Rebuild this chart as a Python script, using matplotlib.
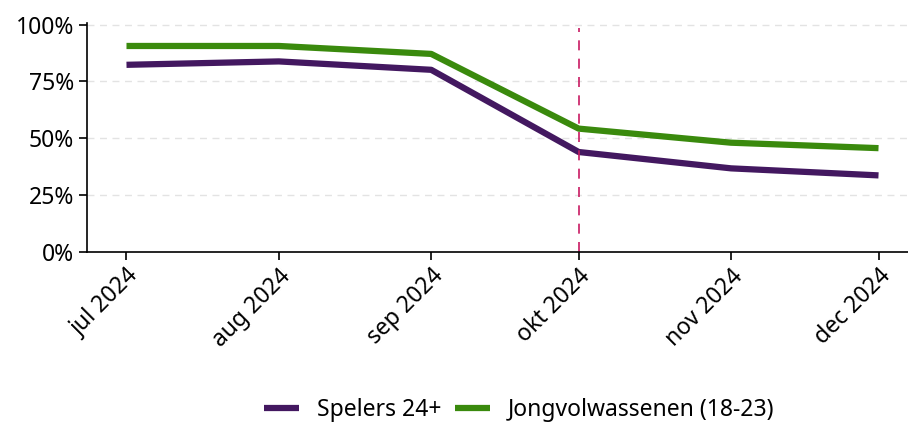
import datetime as dt
import matplotlib
matplotlib.use("Agg")
import matplotlib.pyplot as plt
from matplotlib.ticker import FuncFormatter

months = [dt.date(2024, 7, 1), dt.date(2024, 8, 1), dt.date(2024, 9, 1),
          dt.date(2024, 10, 1), dt.date(2024, 11, 1), dt.date(2024, 12, 1)]
month_labels = ["jul 2024", "aug 2024", "sep 2024", "okt 2024", "nov 2024", "dec 2024"]
spelers = [82.3, 83.8, 80.1, 43.9, 36.7, 33.6]
jong = [90.6, 90.6, 87.1, 54.2, 48.0, 45.6]
marker_date = dt.date(2024, 10, 1)

plt.rcParams['font.family'] = ['Noto Sans', 'DejaVu Sans']

fig = plt.figure(figsize=(9.08, 4.23), dpi=100)
ax = fig.add_axes([0.096, 0.405, 0.904, 0.54])

ax.plot(months, spelers, color="#431860", lw=4.5, label="Spelers 24+", solid_capstyle="butt")
ax.plot(months, jong, color="#3a8a0d", lw=4.5, label="Jongvolwassenen (18-23)", solid_capstyle="butt")
ax.axvline(marker_date, color="#c81a62", lw=1.2, ls=(0, (6, 5)), ymax=0.98)

ax.set_ylim(0, 100.6)
ax.set_yticks([0, 25, 50, 75, 100])
ax.yaxis.set_major_formatter(FuncFormatter(lambda v, p: f"{v:.0f}%"))
ax.set_xlim(dt.date(2024, 6, 23), dt.date(2024, 12, 7))
ax.set_xticks(months)
ax.set_xticklabels(month_labels, rotation=45, ha="right", rotation_mode="anchor")

for y in [25, 50, 75, 100]:
    ax.axhline(y, color="#e3e3e3", lw=1, ls=(0, (5, 4)), zorder=0)

for s in ["top", "right"]:
    ax.spines[s].set_visible(False)
ax.spines["left"].set_linewidth(1.2)
ax.spines["bottom"].set_linewidth(1.2)
ax.tick_params(axis="both", labelsize=16.5, length=6, width=1.2, colors="black")
ax.tick_params(axis="x", pad=3)

leg = fig.legend(loc="center", bbox_to_anchor=(0.572, 0.03), ncol=2, frameon=False,
                 fontsize=16.5, handlelength=1.5, handletextpad=0.8, columnspacing=0.6)

fig.savefig("out.png", dpi=100)
